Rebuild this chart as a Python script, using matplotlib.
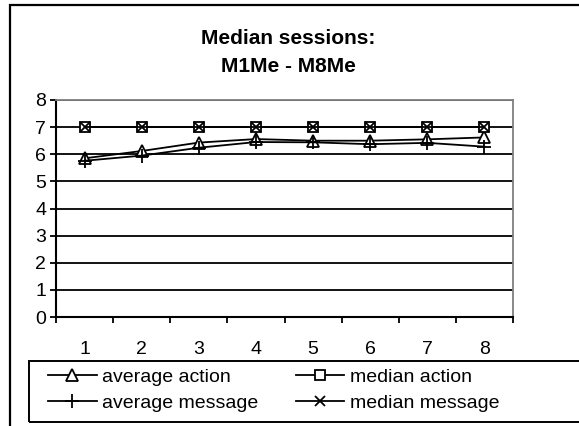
import numpy as np
import matplotlib.pyplot as plt
from matplotlib.patches import Rectangle

plt.rcParams['font.family'] = ['Liberation Sans', 'DejaVu Sans']

# ----------------------------
# Data
# ----------------------------
sessions = [1, 2, 3, 4, 5, 6, 7, 8]
average_action = [5.85, 6.12, 6.43, 6.56, 6.5, 6.5, 6.55, 6.62]
median_action = [7, 7, 7, 7, 7, 7, 7, 7]
average_message = [5.76, 5.95, 6.24, 6.45, 6.44, 6.37, 6.42, 6.28]
median_message = [7, 7, 7, 7, 7, 7, 7, 7]
y_ticks = [0, 1, 2, 3, 4, 5, 6, 7, 8]

W, H = 579, 426
fig = plt.figure(figsize=(W / 100, H / 100), dpi=100)


def fx(px):
    return px / W


def fy(py):
    return 1 - py / H


ax = fig.add_axes([fx(56), fy(317), fx(513) - fx(56), fy(100) - fy(317)])

# ----------------------------
# Lines
# ----------------------------
ax.plot(sessions, average_action, color="black", lw=1.3, marker="^",
        markersize=8, markerfacecolor="white", markeredgecolor="black",
        markeredgewidth=1.3, label="average action", zorder=4)
ax.plot(sessions, median_action, color="black", lw=1.3, marker="s",
        markersize=7, markerfacecolor="white", markeredgecolor="black",
        markeredgewidth=1.3, label="median action", zorder=4)
ax.plot(sessions, average_message, color="black", lw=1.3, marker="+",
        markersize=10, markeredgewidth=1.3, label="average message", zorder=4)
ax.plot(sessions, median_message, color="black", lw=1.3, marker="x",
        markersize=6.5, markeredgewidth=1.3, label="median message", zorder=5)

# ----------------------------
# Axes
# ----------------------------
ax.set_xlim(0.5, 8.5)
ax.set_ylim(0, 8)
ax.set_yticks(y_ticks)
ax.yaxis.grid(True, color="black", lw=1.3)
ax.set_axisbelow(True)

ax.set_xticks(np.arange(0.5, 9, 1))
ax.set_xticklabels([])
ax.set_xticks(sessions, minor=True)
ax.set_xticklabels([str(s) for s in sessions], minor=True)
ax.tick_params(axis="x", which="major", length=4, width=1.3, direction="out")
ax.tick_params(axis="x", which="minor", length=0, pad=17, labelsize=14)
ax.tick_params(axis="y", length=4, width=1.3, pad=3, labelsize=14)

ax.spines["left"].set_linewidth(1.5)
ax.spines["bottom"].set_linewidth(1.5)
ax.spines["top"].set_color("#808080")
ax.spines["right"].set_color("#808080")
ax.spines["top"].set_linewidth(1.3)
ax.spines["right"].set_linewidth(1.3)

fig.text(fx(288), fy(38), "Median sessions:", ha="center", va="center",
         fontsize=15, fontweight="bold")
fig.text(fx(288), fy(67), "M1Me - M8Me", ha="center", va="center",
         fontsize=15, fontweight="bold")

# ----------------------------
# Outer frame and legend box
# ----------------------------
fig.patches.append(Rectangle((fx(10), fy(440)), 1.2, fy(5) - fy(440),
                             transform=fig.transFigure, fill=False,
                             edgecolor="black", lw=1.6, clip_on=False))
fig.patches.append(Rectangle((fx(29), fy(422)), 1.2, fy(361) - fy(422),
                             transform=fig.transFigure, fill=False,
                             edgecolor="black", lw=1.4, clip_on=False))

handles, labels = ax.get_legend_handles_labels()
order = [0, 2, 1, 3]
fig.legend([handles[i] for i in order], [labels[i] for i in order],
           loc="upper left", bbox_to_anchor=(fx(44), fy(364)),
           ncol=2, frameon=False, fontsize=14, handlelength=2.5,
           handletextpad=0.3, columnspacing=1.9, labelspacing=0.45,
           borderpad=0.2, borderaxespad=0)

plt.savefig("out.png", dpi=100)
